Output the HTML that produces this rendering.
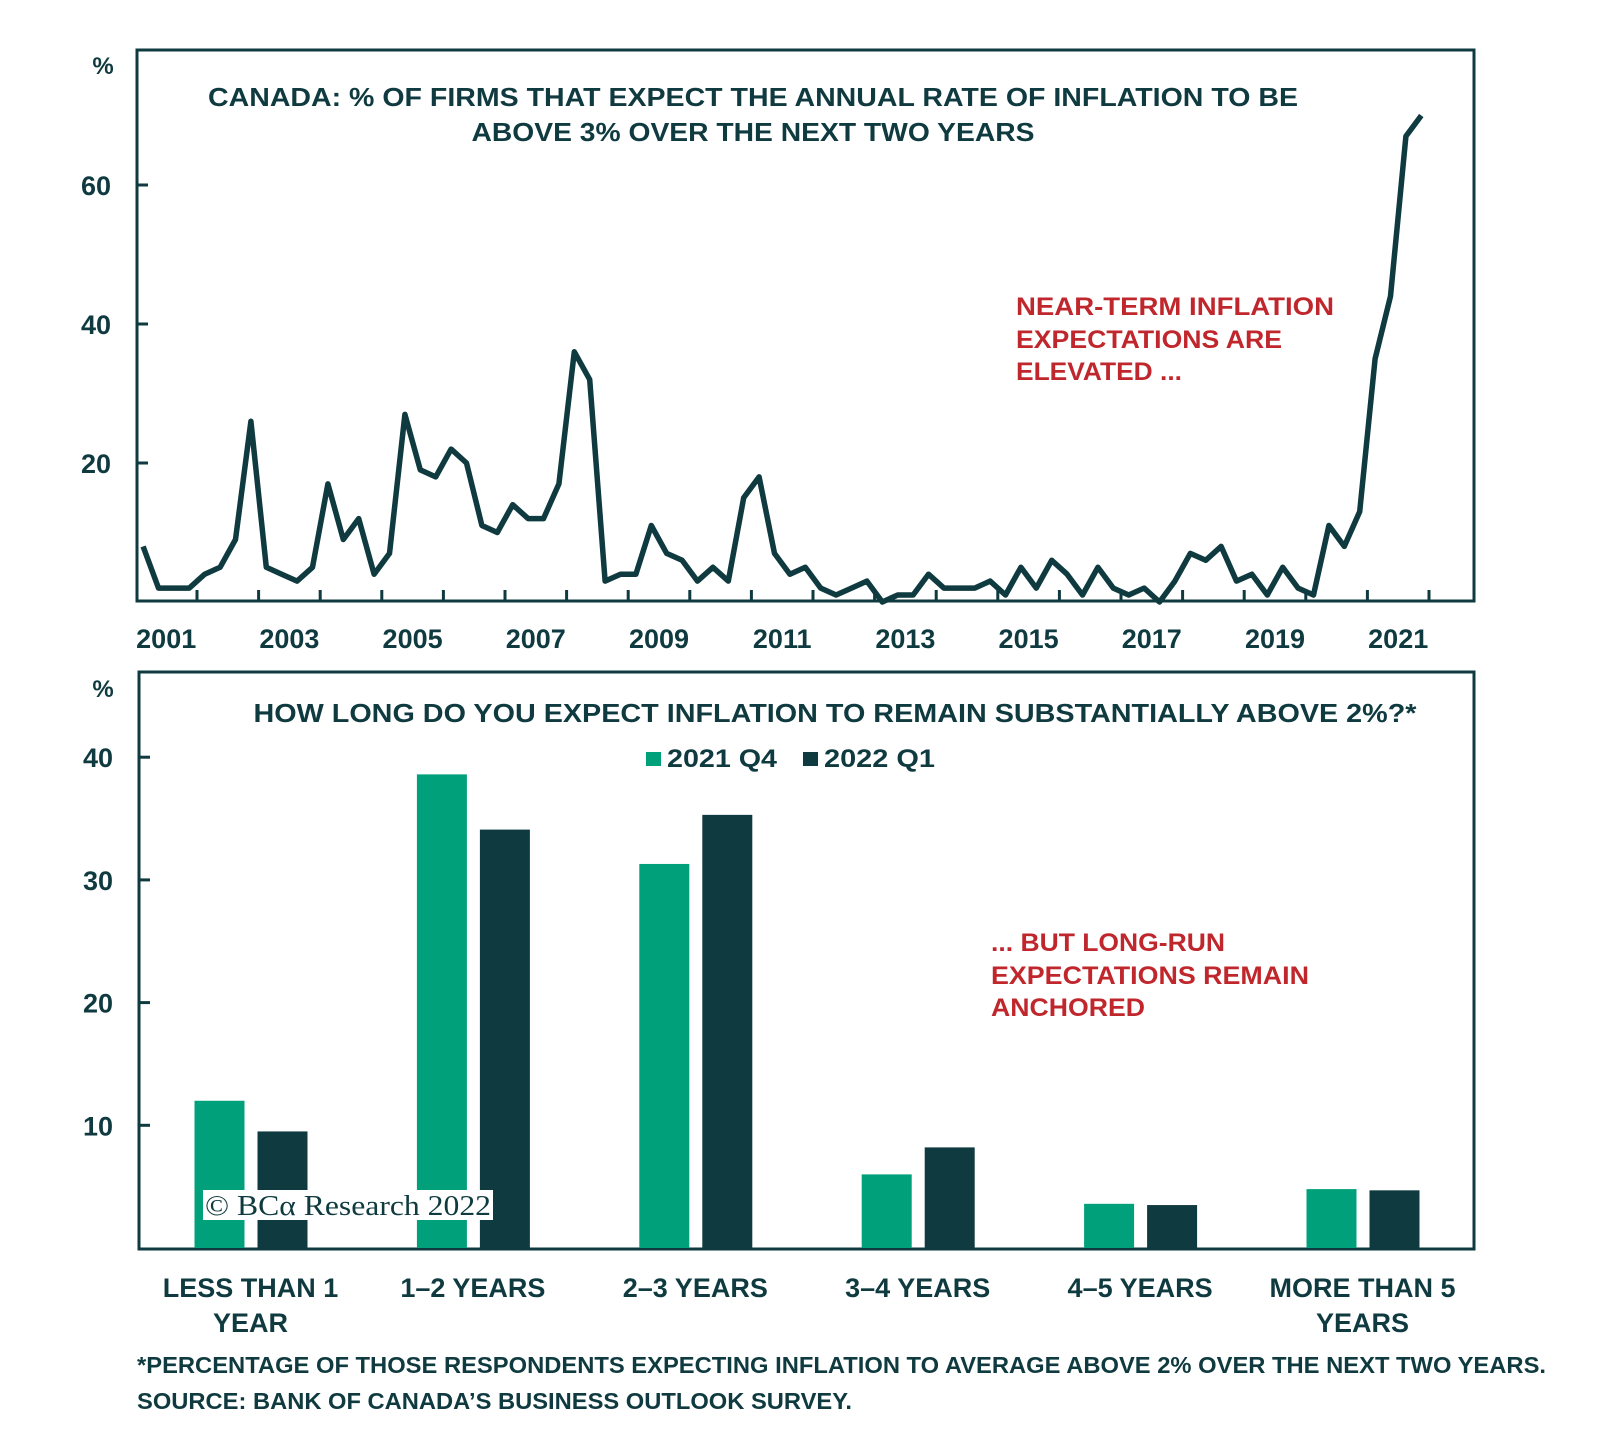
<!DOCTYPE html>
<html><head><meta charset="utf-8"><style>
html,body{margin:0;padding:0;background:#fff;}
svg{display:block;font-family:"Liberation Sans",sans-serif;}
</style></head><body>
<svg id="chart" width="1600" height="1437" viewBox="0 0 1600 1437" xmlns="http://www.w3.org/2000/svg">
<g id="top">
<rect x="137" y="50" width="1337" height="551" fill="none" stroke="#0f3a3f" stroke-width="3"/>
<text x="103" y="74" font-size="24" font-weight="bold" fill="#0f3a3f" text-anchor="middle">%</text>
<text x="753" y="106" font-size="26" font-weight="bold" fill="#0f3a3f" text-anchor="middle" textLength="1090" lengthAdjust="spacingAndGlyphs">CANADA: % OF FIRMS THAT EXPECT THE ANNUAL RATE OF INFLATION TO BE</text>
<text x="753" y="141" font-size="26" font-weight="bold" fill="#0f3a3f" text-anchor="middle" textLength="563" lengthAdjust="spacingAndGlyphs">ABOVE 3% OVER THE NEXT TWO YEARS</text>
<g font-size="25" font-weight="bold" fill="#c0272d">
<text x="1016" y="315" textLength="318" lengthAdjust="spacingAndGlyphs">NEAR-TERM  INFLATION</text>
<text x="1016" y="348" textLength="266" lengthAdjust="spacingAndGlyphs">EXPECTATIONS ARE</text>
<text x="1016" y="380" textLength="166" lengthAdjust="spacingAndGlyphs">ELEVATED ...</text>
</g>
<g id="topAxes"></g>
<path id="line" fill="none" stroke="#0f3a3f" stroke-width="5.5" stroke-linejoin="round"/>
</g>
<g id="bottom">
<rect x="139" y="672" width="1335" height="577" fill="none" stroke="#0f3a3f" stroke-width="3"/>
<text x="103" y="697" font-size="24" font-weight="bold" fill="#0f3a3f" text-anchor="middle">%</text>
<text x="835" y="722" font-size="26" font-weight="bold" fill="#0f3a3f" text-anchor="middle" textLength="1163" lengthAdjust="spacingAndGlyphs">HOW LONG DO YOU EXPECT INFLATION TO REMAIN SUBSTANTIALLY ABOVE 2%?*</text>
<g>
<rect x="646" y="752" width="15" height="14" fill="#00a07a"/>
<text x="667" y="767" font-size="25" font-weight="bold" fill="#0f3a3f" textLength="110" lengthAdjust="spacingAndGlyphs">2021 Q4</text>
<rect x="803" y="752" width="15" height="14" fill="#0f3a3f"/>
<text x="824" y="767" font-size="25" font-weight="bold" fill="#0f3a3f" textLength="111" lengthAdjust="spacingAndGlyphs">2022 Q1</text>
</g>
<g font-size="25" font-weight="bold" fill="#c0272d">
<text x="991" y="951" textLength="234" lengthAdjust="spacingAndGlyphs">... BUT LONG-RUN</text>
<text x="991" y="984" textLength="318" lengthAdjust="spacingAndGlyphs">EXPECTATIONS REMAIN</text>
<text x="991" y="1016" textLength="154" lengthAdjust="spacingAndGlyphs">ANCHORED</text>
</g>
<g id="botAxes"></g>
<g id="bars"></g>
<g>
<rect x="203" y="1190" width="290" height="30" fill="#fff"/>
<text x="205" y="1215" font-family="Liberation Serif, serif" font-size="28" fill="#0f3a3f" textLength="286" lengthAdjust="spacingAndGlyphs">© BCα Research 2022</text>
</g>
</g>
<g font-size="23" font-weight="bold" fill="#0f3a3f">
<text x="137" y="1373" textLength="1409" lengthAdjust="spacingAndGlyphs">*PERCENTAGE OF THOSE RESPONDENTS EXPECTING INFLATION TO AVERAGE ABOVE 2% OVER THE NEXT TWO YEARS.</text>
<text x="137" y="1409" textLength="715" lengthAdjust="spacingAndGlyphs">SOURCE: BANK OF CANADA’S BUSINESS OUTLOOK SURVEY.</text>
</g>
</svg>
<script>
// ---- Line chart data (quarterly, from 2001 Q1) ----
const lineValues = [8,2,2,2,4,5,9,26,5,4,3,5,17,9,12,4,7,27,19,18,22,20,11,10,14,12,12,17,36,32,3,4,4,11,7,6,3,5,3,15,18,7,4,5,2,1,2,3,0,1,1,4,2,2,2,3,1,5,2,6,4,1,5,2,1,2,0,3,7,6,8,3,4,1,5,2,1,11,8,13,35,44,67,70];
const lineStartYear = 2001;
const yearLabels = ["2001","2003","2005","2007","2009","2011","2013","2015","2017","2019","2021"];
const lineYTicks = [20,40,60];
// ---- Bar chart data ----
const barCategories = [["LESS THAN 1","YEAR"],["1–2 YEARS"],["2–3 YEARS"],["3–4 YEARS"],["4–5 YEARS"],["MORE THAN 5","YEARS"]];
const series2021Q4 = [12,38.6,31.3,6,3.6,4.8];
const series2022Q1 = [9.5,34.1,35.3,8.2,3.5,4.7];
const barYTicks = [10,20,30,40];

const NS="http://www.w3.org/2000/svg";
const DARK="#0f3a3f", GREEN="#00a07a";
function mk(tag, attrs, parent){const e=document.createElementNS(NS,tag);for(const k in attrs)e.setAttribute(k,attrs[k]);parent.appendChild(e);return e;}

const lx = yr => 135.4 + (yr - lineStartYear) * 61.6;
const ly = v => 602 - v * 6.95;
const topAxes=document.getElementById('topAxes');
for(let k=1;k<=21;k++){
  const t=mk('line',{x1:lx(lineStartYear+k),x2:lx(lineStartYear+k),y1:601,y2:590,stroke:DARK,'stroke-width':3},topAxes);
  
  
}
yearLabels.forEach(l=>{
  const yr=+l;
  const t=mk('text',{x:lx(yr+0.5),y:648,'font-size':27,'font-weight':'bold',fill:DARK,'text-anchor':'middle'},topAxes);
  t.textContent=l;
  
  
});
lineYTicks.forEach(v=>{
  const t=mk('line',{x1:137,x2:148,y1:ly(v),y2:ly(v),stroke:DARK,'stroke-width':3},topAxes);
  
  
  const l=mk('text',{x:111,y:ly(v)+10,'font-size':27,'font-weight':'bold',fill:DARK,'text-anchor':'end'},topAxes);
  l.textContent=v;
  
  
});
let d="";
lineValues.forEach((v,i)=>{const x=lx(lineStartYear+i*0.25+0.125);d+=(i?"L":"M")+x.toFixed(1)+","+ly(v).toFixed(1);});
document.getElementById('line').setAttribute('d',d);

const by = v => 1248 - v * 12.27;
const groupCenter = i => 250.5 + i * 222.4;
const botAxes=document.getElementById('botAxes');
barYTicks.forEach(v=>{
  const t=mk('line',{x1:139,x2:150,y1:by(v),y2:by(v),stroke:DARK,'stroke-width':3},botAxes);
  
  
  const l=mk('text',{x:113,y:by(v)+10,'font-size':27,'font-weight':'bold',fill:DARK,'text-anchor':'end'},botAxes);
  l.textContent=v;
  
  
});
const bars=document.getElementById('bars');
barCategories.forEach((lines,i)=>{
  const c=groupCenter(i);
  const g=mk('rect',{x:c-56,y:by(series2021Q4[i]),width:50,height:1248-by(series2021Q4[i]),fill:GREEN},bars);
  
  
  const k=mk('rect',{x:c+7,y:by(series2022Q1[i]),width:50,height:1248-by(series2022Q1[i]),fill:DARK},bars);
  
  
  lines.forEach((ln,j)=>{
    const t=mk('text',{x:c,y:1297+j*35,'font-size':27,'font-weight':'bold',fill:DARK,'text-anchor':'middle'},botAxes);
    t.textContent=ln;
    
    
  });
});
</script>
</body></html>
